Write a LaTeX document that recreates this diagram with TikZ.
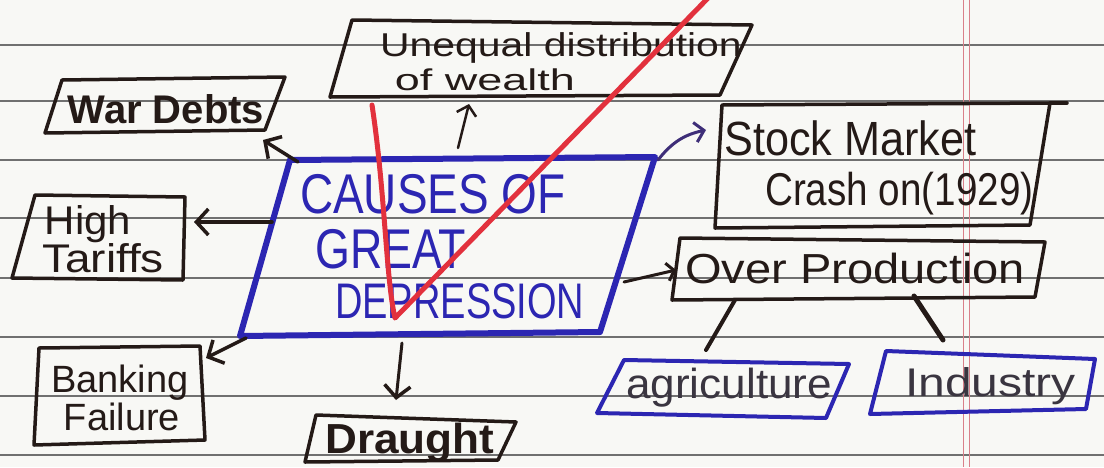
\documentclass[tikz,border=0pt]{standalone}
\usepackage{fontspec}
\setmainfont{Liberation Sans}
\usetikzlibrary{arrows.meta}
\definecolor{paper}{HTML}{F8F8F5}
\definecolor{ink}{HTML}{241A17}
\definecolor{blueink}{HTML}{2C26B2}
\definecolor{redink}{HTML}{E2313D}
\definecolor{rulecol}{HTML}{707070}
\definecolor{margincol}{HTML}{D9808A}
\definecolor{purpleink}{HTML}{3E2E78}
\definecolor{greyink}{HTML}{3A3540}
\newcommand{\hw}[3]{{\fontsize{#1}{#1}\selectfont\scalebox{#2}[1]{#3}}}
\begin{document}
\begin{tikzpicture}[x=1pt,y=-1pt,
  box/.style={draw=ink,line width=3.5pt,line join=round,line cap=round},
  bluebox/.style={draw=blueink,line width=4pt,line join=round,line cap=round},
  arr/.style={draw=ink,line width=3.5pt,line cap=round,-{Straight Barb[length=12pt,width=26pt,line width=3.5pt]}},
  link/.style={draw=ink,line width=4pt,line cap=round},
  txt/.style={text=ink,inner sep=0pt,anchor=base},
  btxt/.style={text=blueink,inner sep=0pt,anchor=base west},
]
\fill[paper] (0,0) rectangle (1104,467);
\useasboundingbox (0,0) rectangle (1104,467);
% ruled paper
\foreach \yy in {45,101,160,218,278,337,396,455} \draw[rulecol,line width=1.3pt] (0,\yy) -- (1104,\yy);
\draw[margincol,line width=1pt] (963,0) -- (963,467);
\draw[margincol,line width=1pt] (969,0) -- (969,467);

% ---- boxes
\draw[box] (352,20) -- (752,25) -- (720,95) -- (330,97) -- cycle;            % unequal
\draw[box] (62,80) -- (285,77) -- (265,130) -- (45,133) -- cycle;            % war debts
\draw[box] (35,195) -- (185,197) -- (183,280) -- (12,278) -- cycle;          % tariffs
\draw[box] (39,348) -- (200,346) -- (205,440) -- (34,445) -- cycle;          % banking
\draw[box] (316,415) -- (516,422) -- (498,460) -- (305,462) -- cycle;        % draught
\draw[box] (722,105) -- (1050,103) -- (1030,225) -- (715,228) -- cycle;      % stock
\draw[box] (1050,103) -- (1067,103);
\draw[box] (680,238) -- (1045,242) -- (1035,297) -- (672,300) -- cycle;      % over production
\draw[bluebox,line width=6pt] (290,160) -- (655,157) -- (600,332) -- (240,336) -- cycle; % center
\draw[bluebox] (624,360) -- (849,364) -- (826,418) -- (597,413) -- cycle;    % agriculture
\draw[bluebox] (886,351) -- (1095,359) -- (1086,409) -- (870,414) -- cycle;  % industry

% ---- texts
\node[txt] (unequal) at (561,56) {\hw{33}{1.24}{Unequal distribution}};
\node[txt] (unequal2) at (485,90) {\hw{30}{1.5}{of wealth}};
\node[txt] (war) at (166,123) {\hw{40}{1.0}{\bfseries War Debts}};
\node[txt] (tariffs) at (88,234) {\hw{40}{1.05}{High}};
\node[txt] (tariffs2) at (103,272) {\hw{40}{1.15}{Tariffs}};
\node[txt] (banking) at (120,392) {\hw{38}{1.0}{Banking}};
\node[txt] (banking2) at (122,430) {\hw{38}{1.0}{Failure}};
\node[txt] (draught) at (410,453) {\hw{42}{1.05}{\bfseries Draught}};
\node[btxt] (center) at (300,213) {\hw{56}{0.82}{CAUSES OF}};
\node[btxt] (center2) at (315,268) {\hw{56}{0.8}{GREAT}};
\node[btxt] (center3) at (335,318) {\hw{50}{0.76}{DEPRESSION}};
\node[txt,anchor=base west] (stock) at (724,155) {\hw{48}{0.9}{Stock Market}};
\node[txt,anchor=base west] (stock2) at (765,205) {\hw{46}{0.84}{Crash on(1929)}};
\node[txt,anchor=base west] (over) at (685,283) {\hw{42}{1.12}{Over Production}};
\node[txt,anchor=base west,text=greyink] (agri) at (626,398) {\hw{42}{1.05}{agriculture}};
\node[txt,anchor=base west,text=greyink] (industry) at (905,396) {\hw{40}{1.2}{Industry}};

% ---- connector end points
\coordinate (c-war) at (298,162);   \coordinate (war-in) at (263,140);
\coordinate (c-une) at (458,148);   \coordinate (une-in) at (469,104);
\coordinate (c-tar) at (272,222);   \coordinate (tar-in) at (194,222);
\coordinate (c-ban) at (246,338);   \coordinate (ban-in) at (206,358);
\coordinate (c-dra) at (402,343);   \coordinate (dra-in) at (396,400);
\coordinate (c-sto) at (658,160);   \coordinate (sto-in) at (706,130);
\coordinate (c-ove) at (624,282);   \coordinate (ove-in) at (676,270);
\coordinate (ove-ag) at (735,300);  \coordinate (ag-top) at (706,350);
\coordinate (ove-in2) at (914,296); \coordinate (in-top) at (943,340);

\draw[arr] (c-war) -- (war-in);
\draw[arr,line width=2.5pt,-{Straight Barb[length=9pt,width=20pt,line width=2.5pt]}] (c-une) -- (une-in);
\draw[arr] (c-tar) -- (tar-in);
\draw[arr] (c-ban) -- (ban-in);
\draw[arr,line width=3pt] (c-dra) -- (dra-in);
\draw[arr,draw=purpleink,line width=3pt,-{Straight Barb[length=9pt,width=20pt,line width=3pt]}] (c-sto) to[bend left=20] (sto-in);
\draw[arr,line width=3pt,-{Straight Barb[length=7pt,width=18pt,line width=3pt]}] (c-ove) -- (ove-in);
\draw[link] (ove-ag) -- (ag-top);
\draw[link,line width=5pt] (ove-in2) -- (in-top);

% ---- red check mark over everything
\draw[redink,line width=5pt,line cap=round,line join=round]
  (372,105) .. controls (385,190) and (386,280) .. (395,318) -- (712,-6);
\end{tikzpicture}
\end{document}
